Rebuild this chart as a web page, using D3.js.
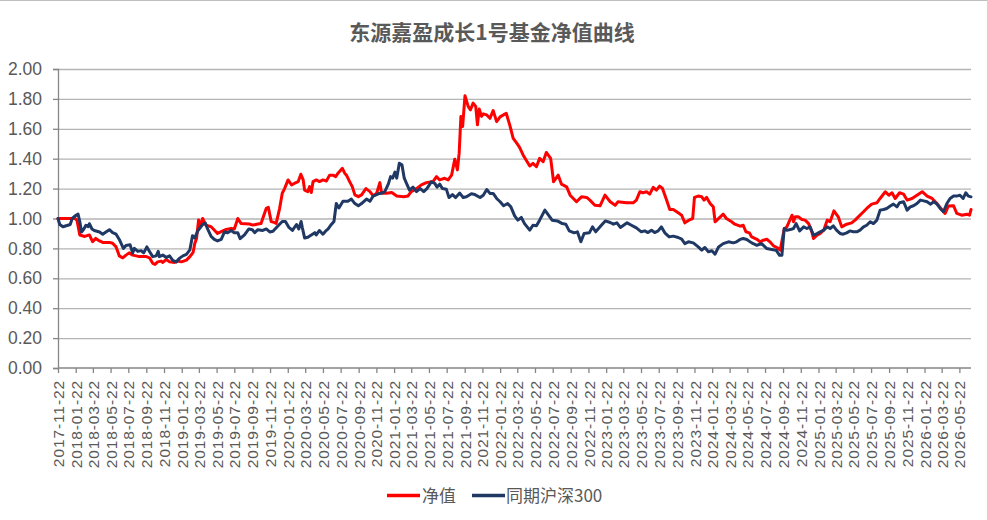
<!DOCTYPE html>
<html><head><meta charset="utf-8">
<script src="https://cdn.jsdelivr.net/npm/d3@7"></script>
<style>body{margin:0;background:#fff}svg{display:block}</style>
</head><body>
<svg id="c" width="987" height="520"></svg>
<script>
const chartTitle = "东源嘉盈成长1号基金净值曲线";
const seriesNames = ["净值", "同期沪深300"];
const yTickValues = [0,0.2,0.4,0.6,0.8,1.0,1.2,1.4,1.6,1.8,2.0];
const xTickLabels = ["2017-11-22","2018-01-22","2018-03-22","2018-05-22","2018-07-22","2018-09-22","2018-11-22",
"2019-01-22","2019-03-22","2019-05-22","2019-07-22","2019-09-22","2019-11-22",
"2020-01-22","2020-03-22","2020-05-22","2020-07-22","2020-09-22","2020-11-22",
"2021-01-22","2021-03-22","2021-05-22","2021-07-22","2021-09-22","2021-11-22",
"2022-01-22","2022-03-22","2022-05-22","2022-07-22","2022-09-22","2022-11-22",
"2023-01-22","2023-03-22","2023-05-22","2023-07-22","2023-09-22","2023-11-22",
"2024-01-22","2024-03-22","2024-05-22","2024-07-22","2024-09-22","2024-11-22",
"2025-01-22","2025-03-22","2025-05-22","2025-07-22","2025-09-22","2025-11-22",
"2026-01-22","2026-03-22","2026-05-22"];
const dateRange = ["2017-11-22","2026-07-01"];

const navDates = ["2017-11-22","2017-12-20","2018-01-19","2018-01-26","2018-02-05","2018-02-22","2018-03-10","2018-03-21","2018-04-01","2018-04-14","2018-04-25","2018-05-18","2018-05-29","2018-06-10","2018-06-21","2018-07-03","2018-07-14","2018-07-25","2018-08-06","2018-08-18","2018-08-29","2018-09-22","2018-10-03","2018-10-14","2018-10-22","2018-10-31","2018-11-12","2018-11-18","2018-11-30","2018-12-11","2018-12-28","2019-01-09","2019-01-21","2019-02-07","2019-02-19","2019-03-02","2019-03-08","2019-03-14","2019-03-21","2019-03-27","2019-04-04","2019-04-15","2019-05-03","2019-05-14","2019-05-25","2019-06-07","2019-06-24","2019-07-11","2019-07-22","2019-08-03","2019-08-14","2019-09-12","2019-09-24","2019-10-11","2019-10-22","2019-11-09","2019-11-16","2019-11-26","2019-12-08","2019-12-13","2019-12-25","2020-01-03","2020-01-11","2020-01-23","2020-02-04","2020-02-15","2020-02-27","2020-03-07","2020-03-15","2020-03-20","2020-03-31","2020-04-06","2020-04-12","2020-04-18","2020-04-29","2020-05-10","2020-05-22","2020-06-03","2020-06-14","2020-06-26","2020-07-05","2020-07-13","2020-07-28","2020-08-05","2020-08-11","2020-08-22","2020-08-31","2020-09-09","2020-09-21","2020-10-02","2020-10-17","2020-10-31","2020-11-11","2020-11-23","2020-12-04","2020-12-10","2020-12-27","2021-01-14","2021-01-31","2021-02-24","2021-03-11","2021-03-22","2021-04-09","2021-04-26","2021-05-13","2021-06-05","2021-06-17","2021-06-28","2021-07-15","2021-07-27","2021-08-08","2021-08-19","2021-08-28","2021-09-03","2021-09-09","2021-09-15","2021-09-23","2021-10-04","2021-10-12","2021-10-21","2021-10-30","2021-11-05","2021-11-11","2021-11-19","2021-11-25","2021-12-07","2021-12-18","2021-12-29","2022-01-10","2022-01-22","2022-02-12","2022-02-24","2022-03-08","2022-03-19","2022-03-30","2022-04-11","2022-04-22","2022-05-04","2022-05-15","2022-05-27","2022-06-07","2022-06-19","2022-06-30","2022-07-15","2022-07-25","2022-08-10","2022-08-21","2022-09-08","2022-09-20","2022-10-12","2022-10-29","2022-11-16","2022-11-27","2022-12-14","2023-01-01","2023-01-18","2023-02-05","2023-02-22","2023-03-04","2023-04-01","2023-04-25","2023-05-06","2023-05-18","2023-05-29","2023-06-10","2023-06-21","2023-07-03","2023-07-14","2023-07-25","2023-08-04","2023-08-18","2023-08-29","2023-09-10","2023-09-27","2023-10-09","2023-10-20","2023-11-07","2023-11-16","2023-11-22","2023-12-05","2023-12-17","2023-12-25","2024-01-03","2024-01-15","2024-01-26","2024-02-01","2024-02-19","2024-02-29","2024-03-11","2024-03-29","2024-04-09","2024-04-27","2024-05-08","2024-05-17","2024-05-29","2024-06-06","2024-06-24","2024-07-05","2024-07-16","2024-07-28","2024-08-08","2024-08-20","2024-09-01","2024-09-12","2024-09-26","2024-10-05","2024-10-23","2024-10-28","2024-11-03","2024-11-14","2024-11-26","2024-12-07","2024-12-19","2024-12-30","2025-01-05","2025-01-17","2025-01-28","2025-02-09","2025-02-21","2025-03-03","2025-03-16","2025-03-31","2025-04-12","2025-04-29","2025-05-16","2025-05-28","2025-06-08","2025-06-26","2025-07-07","2025-07-24","2025-08-11","2025-08-22","2025-09-09","2025-09-21","2025-10-02","2025-10-13","2025-10-28","2025-11-11","2025-11-23","2025-12-10","2025-12-27","2026-01-14","2026-01-31","2026-02-17","2026-03-06","2026-03-22","2026-04-03","2026-04-14","2026-05-02","2026-05-13","2026-05-30","2026-06-17","2026-06-26","2026-07-01"];
const navValues = [1.00,1.00,1.00,0.99,0.89,0.88,0.89,0.845,0.867,0.85,0.84,0.84,0.834,0.81,0.75,0.737,0.755,0.77,0.755,0.75,0.745,0.745,0.737,0.70,0.693,0.71,0.715,0.706,0.726,0.71,0.706,0.715,0.71,0.722,0.745,0.773,0.834,0.867,0.99,0.945,1.00,0.956,0.945,0.923,0.90,0.912,0.927,0.934,0.93,1.00,0.967,0.963,0.956,0.963,0.967,1.068,1.075,0.979,0.972,0.967,1.068,1.169,1.20,1.258,1.225,1.236,1.247,1.296,1.258,1.19,1.18,1.213,1.174,1.247,1.258,1.247,1.258,1.251,1.29,1.29,1.28,1.303,1.336,1.303,1.29,1.247,1.213,1.158,1.146,1.158,1.20,1.18,1.151,1.169,1.24,1.169,1.169,1.174,1.151,1.146,1.151,1.18,1.20,1.225,1.24,1.247,1.28,1.258,1.269,1.258,1.29,1.397,1.325,1.437,1.683,1.616,1.821,1.75,1.727,1.772,1.75,1.627,1.732,1.683,1.70,1.693,1.67,1.722,1.648,1.68,1.704,1.626,1.536,1.507,1.476,1.425,1.39,1.351,1.369,1.346,1.402,1.38,1.442,1.402,1.246,1.29,1.23,1.212,1.156,1.112,1.145,1.141,1.123,1.089,1.085,1.156,1.112,1.089,1.112,1.105,1.105,1.123,1.179,1.172,1.179,1.163,1.208,1.19,1.217,1.201,1.123,1.06,1.06,1.038,1.022,0.971,0.993,1.00,1.141,1.15,1.145,1.123,1.141,1.10,1.078,0.978,1.011,1.029,1.00,0.978,0.962,0.949,0.955,0.911,0.904,0.877,0.861,0.844,0.855,0.861,0.844,0.817,0.806,0.788,0.93,0.944,1.022,0.978,1.011,1.011,0.993,0.989,0.966,0.911,0.866,0.888,0.90,0.922,0.989,0.978,1.051,1.011,0.944,0.962,0.971,0.989,1.011,1.045,1.067,1.096,1.105,1.134,1.179,1.156,1.172,1.134,1.172,1.163,1.123,1.134,1.156,1.179,1.15,1.134,1.10,1.06,1.034,1.083,1.085,1.034,1.022,1.029,1.022,1.06];

const idxDates = ["2017-11-22","2017-11-28","2017-12-09","2017-12-26","2018-01-03","2018-01-10","2018-01-22","2018-01-30","2018-02-05","2018-02-11","2018-02-19","2018-02-26","2018-03-06","2018-03-10","2018-03-19","2018-03-27","2018-04-14","2018-04-25","2018-05-06","2018-05-18","2018-05-29","2018-06-10","2018-06-21","2018-07-05","2018-07-14","2018-07-28","2018-08-06","2018-08-12","2018-08-24","2018-09-04","2018-09-13","2018-09-24","2018-10-03","2018-10-14","2018-10-26","2018-11-02","2018-11-06","2018-11-18","2018-11-30","2018-12-11","2018-12-22","2019-01-03","2019-01-15","2019-01-26","2019-02-07","2019-02-19","2019-02-28","2019-03-08","2019-03-19","2019-04-04","2019-04-13","2019-04-21","2019-05-03","2019-05-14","2019-05-25","2019-06-07","2019-06-18","2019-06-29","2019-07-11","2019-07-22","2019-08-03","2019-08-11","2019-08-26","2019-09-10","2019-09-22","2019-09-30","2019-10-11","2019-10-28","2019-11-09","2019-11-21","2019-12-02","2019-12-19","2020-01-03","2020-01-14","2020-01-26","2020-02-07","2020-02-21","2020-02-29","2020-03-08","2020-03-12","2020-03-20","2020-03-31","2020-04-12","2020-04-24","2020-04-29","2020-05-10","2020-05-22","2020-05-31","2020-06-09","2020-06-20","2020-06-29","2020-07-07","2020-07-16","2020-07-30","2020-08-16","2020-08-28","2020-09-09","2020-09-21","2020-10-02","2020-10-19","2020-10-31","2020-11-11","2020-11-29","2020-12-10","2020-12-21","2021-01-02","2021-01-10","2021-01-17","2021-01-25","2021-01-31","2021-02-09","2021-02-18","2021-02-26","2021-03-08","2021-03-16","2021-03-28","2021-04-09","2021-04-22","2021-05-04","2021-05-15","2021-05-30","2021-06-11","2021-06-19","2021-06-28","2021-07-07","2021-07-21","2021-07-30","2021-08-11","2021-08-22","2021-09-05","2021-09-17","2021-09-28","2021-10-15","2021-10-27","2021-11-14","2021-11-25","2021-12-07","2021-12-18","2021-12-29","2022-01-10","2022-01-22","2022-02-03","2022-02-17","2022-02-28","2022-03-13","2022-03-24","2022-04-05","2022-04-16","2022-05-04","2022-05-15","2022-05-27","2022-06-07","2022-06-25","2022-07-12","2022-07-20","2022-08-07","2022-08-24","2022-09-05","2022-09-17","2022-10-04","2022-10-15","2022-10-27","2022-11-07","2022-11-25","2022-12-06","2022-12-17","2023-01-04","2023-01-19","2023-02-05","2023-02-16","2023-02-28","2023-03-12","2023-03-23","2023-04-04","2023-04-19","2023-05-06","2023-05-23","2023-06-04","2023-06-15","2023-06-27","2023-07-08","2023-07-20","2023-07-31","2023-08-12","2023-08-27","2023-09-10","2023-09-27","2023-10-09","2023-10-20","2023-11-01","2023-11-18","2023-12-05","2023-12-17","2023-12-28","2024-01-09","2024-01-21","2024-02-01","2024-02-13","2024-02-29","2024-03-18","2024-04-04","2024-04-15","2024-04-27","2024-05-08","2024-05-20","2024-06-06","2024-06-24","2024-07-10","2024-07-28","2024-08-14","2024-08-29","2024-09-10","2024-09-18","2024-09-26","2024-10-05","2024-10-17","2024-10-28","2024-11-06","2024-11-18","2024-12-02","2024-12-13","2024-12-24","2025-01-05","2025-01-17","2025-01-28","2025-02-09","2025-02-21","2025-03-03","2025-03-14","2025-03-25","2025-04-06","2025-04-17","2025-04-29","2025-05-10","2025-05-22","2025-06-03","2025-06-14","2025-06-26","2025-07-07","2025-07-19","2025-07-30","2025-08-11","2025-08-22","2025-09-03","2025-09-14","2025-09-26","2025-10-07","2025-10-19","2025-10-28","2025-11-11","2025-11-23","2025-12-04","2025-12-15","2025-12-27","2026-01-08","2026-01-19","2026-01-31","2026-02-11","2026-02-23","2026-03-06","2026-03-17","2026-03-28","2026-04-09","2026-04-20","2026-05-02","2026-05-13","2026-05-24","2026-06-04","2026-06-13","2026-06-22","2026-07-01"];
const idxValues = [1.00,0.96,0.945,0.955,0.96,1.00,1.02,1.03,0.98,0.91,0.93,0.955,0.945,0.965,0.93,0.92,0.91,0.895,0.91,0.925,0.905,0.895,0.86,0.80,0.82,0.825,0.77,0.80,0.78,0.785,0.77,0.81,0.78,0.745,0.75,0.78,0.745,0.755,0.74,0.75,0.72,0.71,0.735,0.75,0.76,0.79,0.885,0.87,0.92,0.96,0.97,0.93,0.88,0.86,0.85,0.86,0.91,0.905,0.92,0.905,0.905,0.865,0.89,0.93,0.925,0.905,0.925,0.92,0.93,0.91,0.915,0.95,0.98,0.98,0.94,0.92,0.96,0.93,0.98,0.94,0.87,0.875,0.89,0.905,0.89,0.92,0.895,0.915,0.93,0.96,0.98,1.10,1.07,1.115,1.115,1.13,1.10,1.085,1.10,1.13,1.115,1.15,1.165,1.17,1.18,1.23,1.28,1.27,1.31,1.27,1.37,1.36,1.27,1.225,1.19,1.21,1.18,1.20,1.18,1.20,1.245,1.235,1.21,1.23,1.20,1.195,1.14,1.16,1.14,1.17,1.14,1.145,1.165,1.16,1.14,1.156,1.194,1.168,1.168,1.134,1.112,1.085,1.10,1.078,1.018,0.989,1.007,0.966,0.922,0.955,0.951,0.989,1.056,1.011,0.989,0.984,0.966,0.962,0.917,0.904,0.911,0.844,0.90,0.904,0.944,0.911,0.951,0.984,0.973,0.962,0.971,0.94,0.955,0.971,0.955,0.937,0.911,0.917,0.906,0.922,0.906,0.917,0.944,0.904,0.877,0.882,0.873,0.862,0.832,0.844,0.837,0.81,0.788,0.806,0.777,0.784,0.761,0.81,0.832,0.844,0.837,0.844,0.86,0.866,0.86,0.837,0.821,0.832,0.799,0.793,0.788,0.754,0.754,0.933,0.922,0.926,0.933,0.966,0.917,0.944,0.933,0.944,0.888,0.899,0.911,0.922,0.944,0.933,0.951,0.922,0.90,0.895,0.904,0.917,0.911,0.911,0.922,0.944,0.955,0.978,0.966,0.989,1.056,1.06,1.067,1.083,1.096,1.078,1.105,1.112,1.056,1.078,1.085,1.10,1.123,1.118,1.112,1.096,1.112,1.096,1.067,1.045,1.10,1.134,1.15,1.15,1.156,1.134,1.172,1.15,1.145];

const parse = d3.timeParse("%Y-%m-%d");
const series = [
  {name: seriesNames[0], color: "#FF0000", data: navDates.map((d,i)=>({date: parse(d), v: navValues[i]}))},
  {name: seriesNames[1], color: "#1F3864", data: idxDates.map((d,i)=>({date: parse(d), v: idxValues[i]}))}
];

const svg = d3.select("#c");
const L = 58, R = 971, T = 69, B = 368;
const x = d3.scaleTime().domain(dateRange.map(parse)).range([L, R]);
const y = d3.scaleLinear().domain([0, 2]).range([B, T]);
const textColor = "#595959";
const fontLat = "'Liberation Sans', Arial, sans-serif";
const fontCJK = "'Noto Sans CJK SC', 'Noto Sans', sans-serif";

svg.append("line").attr("x1",0).attr("x2",987).attr("y1",0.5).attr("y2",0.5).attr("stroke","#bfbfbf");

// title
svg.append("text").attr("x", 492).attr("y", 40).attr("text-anchor","middle")
  .style("font-family", fontCJK).style("font-weight","bold").style("font-size","21px")
  .attr("fill", textColor).text(chartTitle);

// gridlines
const grid = svg.append("g").attr("transform", `translate(${L},0)`)
  .call(d3.axisLeft(y).tickValues(yTickValues.filter(v=>v>0)).tickSize(-(R-L)).tickFormat(""));
grid.select(".domain").remove();
grid.selectAll("line").attr("stroke","#b4b4b4").attr("stroke-width",1.3);

// y axis
const ya = svg.append("g").attr("transform", `translate(${L},0)`)
  .call(d3.axisLeft(y).tickValues(yTickValues).tickSize(5).tickPadding(11).tickFormat(d3.format(".2f")));
ya.select(".domain").attr("stroke","#868686").attr("stroke-width",1.3);
ya.selectAll(".tick line").attr("stroke","#868686").attr("stroke-width",1.3);
ya.selectAll("text").attr("fill", textColor).style("font-family", fontLat).style("font-size","17.5px");

// x axis
const xa = svg.append("g").attr("transform", `translate(0,${B})`)
  .call(d3.axisBottom(x).tickValues(xTickLabels.map(parse)).tickSize(5).tickFormat(d3.timeFormat("%Y-%m-%d")));
xa.select(".domain").attr("stroke","#868686").attr("stroke-width",1.3).attr("d", `M${L},0H${R}`);
xa.selectAll(".tick line").attr("stroke","#868686").attr("stroke-width",1.3);
xa.selectAll("text").attr("fill", textColor).style("font-family", fontLat).style("font-size","15.5px")
  .style("letter-spacing","0.9px")
  .attr("transform","rotate(-90)").attr("x",-12).attr("y",0).attr("dy","0.36em").style("text-anchor","end");

// lines
const line = d3.line().x(d=>x(d.date)).y(d=>y(d.v));
svg.append("g").selectAll("path").data(series).join("path")
  .attr("d", d=>line(d.data)).attr("fill","none").attr("stroke", d=>d.color)
  .attr("stroke-width", 3).attr("stroke-linejoin","round").attr("stroke-linecap","round");

// legend
const legendPos = [{lx:387, tx:422}, {lx:472, tx:506}];
const lg = svg.append("g").selectAll("g").data(series).join("g");
lg.append("line").attr("x1",(d,i)=>legendPos[i].lx).attr("x2",(d,i)=>legendPos[i].lx+33)
  .attr("y1",495.5).attr("y2",495.5).attr("stroke",d=>d.color).attr("stroke-width",3.5);
lg.append("text").attr("x",(d,i)=>legendPos[i].tx).attr("y",501.5)
  .style("font-family", fontCJK).style("font-size","17px").attr("fill", textColor).text(d=>d.name);
</script>
</body></html>
